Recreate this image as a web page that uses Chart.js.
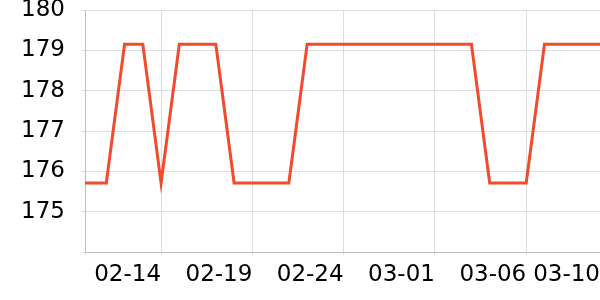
<!DOCTYPE html>
<html>
<head>
<meta charset="utf-8">
<script src="https://cdn.jsdelivr.net/npm/chart.js@4/dist/chart.umd.min.js"></script>
<style>
  body { margin: 0; background: #fff; }
</style>
</head>
<body>
<canvas id="chart" width="600" height="300"></canvas>
<script>
// daily closing values
const dates = [
  '02-09', '02-10', '02-11', '02-12', '02-13', '02-14', '02-15', '02-16',
  '02-17', '02-18', '02-19', '02-20', '02-21', '02-22', '02-23', '02-24',
  '02-25', '02-26', '02-27', '02-28', '03-01', '03-02', '03-03', '03-04',
  '03-05', '03-06', '03-07', '03-08', '03-09', '03-10', '03-11'
];
const prices = [
  175.71, 175.71, 175.71, 179.15, 179.15, 175.71, 179.15, 179.15,
  179.15, 175.71, 175.71, 175.71, 175.71, 179.15, 179.15, 179.15,
  179.15, 179.15, 179.15, 179.15, 179.15, 179.15, 179.15, 175.71,
  175.71, 175.71, 179.15, 179.15, 179.15, 179.15, 179.15
];
const tickDates = ['02-14', '02-19', '02-24', '03-01', '03-06'];
const axisStart = ['02-09', 20];
const axisEnd = ['03-10', 1];
const yMin = 174;
const yMax = 180;

const YEAR = 2023;
const BASE = Date.UTC(YEAR, 1, 14);
const DAY = 86400000;

function dayOf(md, hour) {
  const [m, d] = md.split('-').map(Number);
  return (Date.UTC(YEAR, m - 1, d, hour || 0) - BASE) / DAY;
}
function fmt(v) {
  const t = new Date(BASE + v * DAY);
  const mm = String(t.getUTCMonth() + 1).padStart(2, '0');
  const dd = String(t.getUTCDate()).padStart(2, '0');
  return mm + '-' + dd;
}

const xMin = dayOf(axisStart[0], axisStart[1]);
const xMax = dayOf(axisEnd[0], axisEnd[1]);
const points = dates.map((d, i) => ({ x: dayOf(d), y: prices[i] }));

const font = { family: 'DejaVu Sans', size: 23 };

new Chart(document.getElementById('chart'), {
  type: 'line',
  data: {
    datasets: [{
      data: points,
      borderColor: '#ef4b2c',
      borderWidth: 3,
      pointRadius: 0,
      tension: 0,
      clip: 0
    }]
  },
  options: {
    responsive: false,
    animation: false,
    layout: { padding: { top: 10, left: 0, right: 0, bottom: 0 } },
    plugins: { legend: { display: false }, tooltip: { enabled: false } },
    scales: {
      x: {
        type: 'linear',
        min: xMin,
        max: xMax,
        grid: { color: '#dddddd', tickLength: 3 },
        border: { color: '#bfbfbf' },
        ticks: {
          font: font,
          color: '#000',
          align: 'end',
          autoSkip: false,
          maxRotation: 0,
          padding: 6,
          callback: (v) => (v === xMin ? '' : fmt(v))
        },
        afterBuildTicks: (scale) => {
          scale.ticks = [xMin, ...tickDates.map((d) => dayOf(d)), xMax].map((v) => ({ value: v }));
        },
        afterFit: (scale) => {
          scale.height = 48;
          scale.paddingLeft = 0;
          scale.paddingRight = 0;
        }
      },
      y: {
        min: yMin,
        max: yMax,
        grid: { color: '#dddddd', tickLength: 3 },
        border: { color: '#bfbfbf' },
        ticks: {
          font: font,
          color: '#000',
          stepSize: 1,
          padding: 17,
          callback: (v) => (v === yMin ? '' : v)
        },
        afterFit: (scale) => {
          scale.width = 85;
          scale.paddingTop = 0;
          scale.paddingBottom = 0;
        }
      }
    }
  }
});
</script>
</body>
</html>
